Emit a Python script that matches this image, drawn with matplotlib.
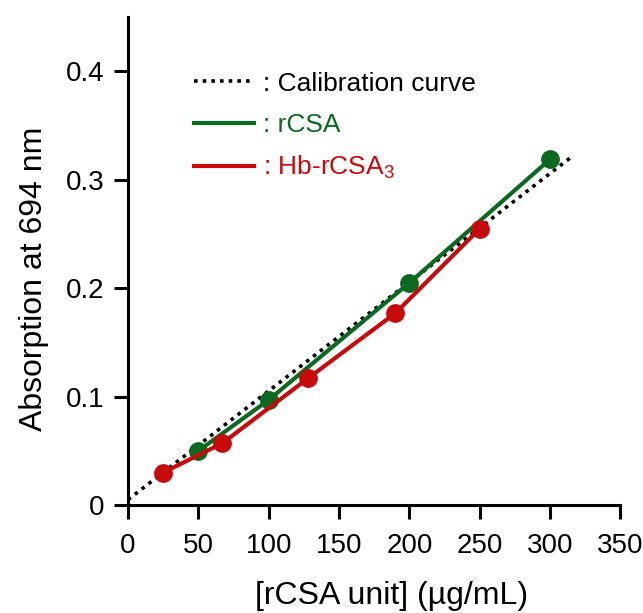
import matplotlib
matplotlib.use("Agg")
import matplotlib.pyplot as plt

plt.rcParams['font.family'] = ['Liberation Sans', 'DejaVu Sans']
plt.rcParams['mathtext.fontset'] = 'custom'
plt.rcParams['mathtext.rm'] = 'Liberation Sans'
plt.rcParams['mathtext.it'] = 'Liberation Sans:italic'

# calibration curve end points
calib_x = [0, 315]
calib_y = [0.005, 0.321]

# rCSA
rcsa_x = [50, 100, 200, 300]
rcsa_y = [0.050, 0.097, 0.205, 0.319]

# Hb-rCSA3
hb_x = [25, 67, 128, 190, 250]
hb_y = [0.030, 0.057, 0.117, 0.177, 0.255]

green = '#0b6a1f'
red = '#c80a0a'

fig = plt.figure(figsize=(6.43, 6.13), dpi=100)
ax = fig.add_axes([0.199, 0.176, 0.766, 0.796])

ax.plot(calib_x, calib_y, color='black', lw=2.6, linestyle=(0, (1, 1.4)),
        label=': Calibration curve')
ax.plot(rcsa_x, rcsa_y, color=green, lw=3, marker='o', ms=12.5,
        label=': rCSA')
ax.plot(hb_x, hb_y, color=red, lw=3, marker='o', ms=12.5,
        label=r': Hb-rCSA$_{\mathit{3}}$')

ax.set_xlim(0, 350)
ax.set_ylim(0, 0.45)
ax.set_xticks([0, 50, 100, 150, 200, 250, 300, 350])
ax.set_yticks([0, 0.1, 0.2, 0.3, 0.4])
ax.set_yticklabels(['0', '0.1', '0.2', '0.3', '0.4'])

for s in ['top', 'right']:
    ax.spines[s].set_visible(False)
for s in ['left', 'bottom']:
    ax.spines[s].set_linewidth(2.2)
ax.tick_params(direction='out', length=10, width=2.2, labelsize=20)
ax.tick_params(axis='x', pad=10)
ax.tick_params(axis='y', pad=7)

ax.set_xlabel('[rCSA unit] (µg/mL)', fontsize=23, labelpad=16, x=0.535)
ax.set_ylabel('Absorption at 694 nm', fontsize=23, labelpad=12, y=0.463)

leg = ax.legend(loc='upper left', bbox_to_anchor=(0.113, 0.91), frameon=False,
                fontsize=19, handlelength=2.25, handletextpad=0.35,
                labelspacing=0.65, borderaxespad=0,
                labelcolor=['black', green, red])
for h in leg.get_lines():
    h.set_marker('')

fig.savefig('out.png', dpi=100)
